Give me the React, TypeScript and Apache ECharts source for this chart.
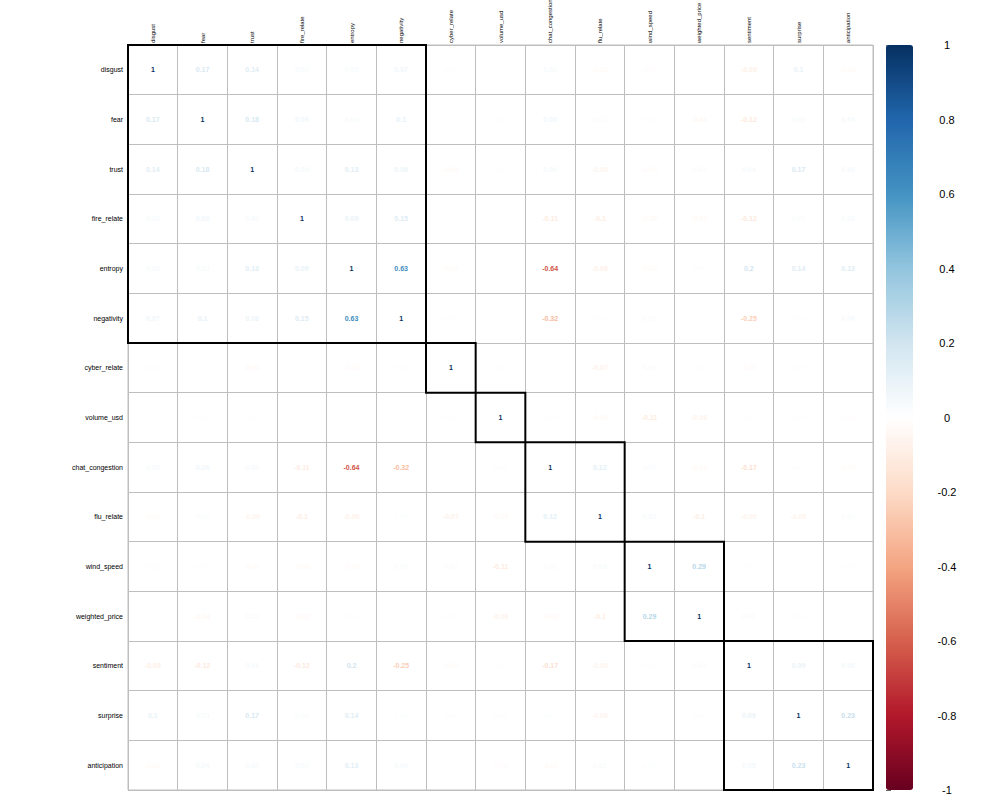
import React, { useEffect, useRef } from "react";
import * as echarts from "echarts";

const variables = [
  "disgust", "fear", "trust", "fire_relate", "entropy", "negativity", "cyber_relate",
  "volume_usd", "chat_congestion", "flu_relate", "wind_speed", "weighted_price",
  "sentiment", "surprise", "anticipation",
];

const rowDisgust = [1, 0.17, 0.14, 0.03, 0.03, 0.07, 0.01, 0, 0.03, -0.02, -0.01, 0, -0.09, 0.1, -0.02];
const rowFear = [0.17, 1, 0.18, 0.06, 0.03, 0.1, 0, 0.01, 0.06, 0.02, 0.01, -0.04, -0.12, 0.03, 0.04];
const rowTrust = [0.14, 0.18, 1, 0.04, 0.13, 0.08, -0.03, 0.01, 0.04, -0.06, -0.02, 0.02, 0.04, 0.17, 0.04];
const rowFire = [0.03, 0.06, 0.04, 1, 0.09, 0.15, 0, 0, -0.11, -0.1, -0.03, -0.03, -0.12, 0.02, 0.03];
const rowEntropy = [0.03, 0.03, 0.13, 0.09, 1, 0.63, -0.02, 0, -0.64, -0.08, -0.02, 0.01, 0.2, 0.14, 0.13];
const rowNegativity = [0.07, 0.1, 0.08, 0.15, 0.63, 1, 0.01, 0, -0.32, 0.01, 0.02, 0, -0.25, 0.01, 0.04];
const rowCyber = [0.01, 0, -0.03, 0, -0.02, 0.01, 1, 0.01, 0, -0.07, 0.02, 0.01, -0.02, 0.01, 0];
const rowVolume = [0, 0.01, 0.01, 0, 0, 0, 0.01, 1, 0.01, -0.03, -0.11, -0.06, 0.01, 0.01, -0.01];
const rowChat = [0.03, 0.06, 0.04, -0.11, -0.64, -0.32, 0, 0.01, 1, 0.12, 0.02, -0.03, -0.17, 0.01, -0.02];
const rowFlu = [-0.02, 0.02, -0.06, -0.1, -0.08, 0.01, -0.07, -0.03, 0.12, 1, 0.03, -0.1, -0.06, -0.06, 0.02];
const rowWind = [-0.01, 0.01, -0.02, -0.03, -0.02, 0.02, 0.02, -0.11, 0.02, 0.03, 1, 0.29, 0.01, 0, 0.01];
const rowPrice = [0, -0.04, 0.02, -0.03, 0.01, 0, 0.01, -0.06, -0.03, -0.1, 0.29, 1, 0.02, 0.01, 0];
const rowSentiment = [-0.09, -0.12, 0.04, -0.12, 0.2, -0.25, -0.02, 0.01, -0.17, -0.06, 0.01, 0.02, 1, 0.09, 0.05];
const rowSurprise = [0.1, 0.03, 0.17, 0.02, 0.14, 0.01, 0.01, 0.01, 0.01, -0.06, 0, 0.01, 0.09, 1, 0.23];
const rowAnticipation = [-0.02, 0.04, 0.04, 0.03, 0.13, 0.04, 0, -0.01, -0.02, 0.02, 0.01, 0, 0.05, 0.23, 1];

const matrix = [
  rowDisgust, rowFear, rowTrust, rowFire, rowEntropy, rowNegativity, rowCyber, rowVolume,
  rowChat, rowFlu, rowWind, rowPrice, rowSentiment, rowSurprise, rowAnticipation,
];

// cluster blocks [startIndex, endIndex]
const clusters = [[0, 5], [6, 6], [7, 7], [8, 9], [10, 11], [12, 14]];

const colorTicks = [-1, -0.8, -0.6, -0.4, -0.2, 0, 0.2, 0.4, 0.6, 0.8, 1];

const RdBu = [
  "#67001F", "#B2182B", "#D6604D", "#F4A582", "#FDDBC7", "#FFFFFF",
  "#D1E5F0", "#92C5DE", "#4393C3", "#2166AC", "#053061",
];

function fmt(v: number): string {
  const r = Math.round(v * 100) / 100;
  return String(r);
}

export default function App() {
  const ref = useRef<HTMLDivElement>(null);
  useEffect(() => {
    if (!ref.current) return;
    document.body.style.margin = "0";
    const chart = echarts.init(ref.current, undefined, { renderer: "svg" });
    const cellData: number[][] = [];
    matrix.forEach((row, r) => row.forEach((v, c) => cellData.push([c, r, v])));

    const font = "Liberation Sans, Arial, sans-serif";
    chart.setOption({
      animation: false,
      backgroundColor: "#ffffff",
      grid: [
        {
          left: 128, top: 45, width: 745, height: 745, show: true, borderColor: "#BEBEBE", borderWidth: 1,
          backgroundColor: "transparent", containLabel: false, outerBoundsMode: "none",
        },
        { left: 886, top: 45, width: 27, height: 745, show: false, containLabel: false, outerBoundsMode: "none" },
      ],
      xAxis: [
        {
          type: "category", gridIndex: 0, data: variables, position: "top",
          axisLine: { show: false }, axisTick: { show: false },
          splitLine: { show: true, lineStyle: { color: "#BEBEBE", width: 1 } },
          axisLabel: {
            rotate: -90, fontSize: 6, color: "#000", margin: 2, fontFamily: font, interval: 0,
            overflow: "none", width: 200, hideOverlap: false,
          },
        },
        { type: "value", gridIndex: 1, show: false, min: 0, max: 1 },
      ],
      yAxis: [
        {
          type: "category", gridIndex: 0, data: variables, inverse: true,
          axisLine: { show: false }, axisTick: { show: false },
          splitLine: { show: true, lineStyle: { color: "#BEBEBE", width: 1 } },
          axisLabel: { fontSize: 7, color: "#000", margin: 5, fontFamily: font, interval: 0 },
        },
        {
          type: "value", gridIndex: 1, position: "right", min: -1, max: 1, interval: 0.2,
          axisLine: { show: false },
          axisTick: { show: true, length: 5, lineStyle: { color: "#666" } },
          splitLine: { show: false },
          axisLabel: {
            fontSize: 11, color: "#000", margin: 34, align: "center", fontFamily: font,
            formatter: (v: number) => {
              const t = colorTicks.find((x) => Math.abs(x - v) < 1e-6);
              return t === undefined ? "" : String(t);
            },
          },
        },
      ],
      visualMap: {
        type: "continuous", min: -1, max: 1, dimension: 2, seriesIndex: 0,
        calculable: false, left: 886, top: 45, itemWidth: 27, itemHeight: 745,
        padding: 0, text: ["", ""], showLabel: false,
        inRange: { color: RdBu },
      },
      series: [
        {
          type: "custom", xAxisIndex: 0, yAxisIndex: 0, data: cellData,
          renderItem: (params: any, api: any) => {
            const p = api.coord([api.value(0), api.value(1)]);
            return {
              type: "text", x: p[0], y: p[1],
              style: {
                text: fmt(api.value(2)), fill: api.visual("color"),
                fontSize: 7, fontWeight: "bold", fontFamily: font,
                align: "center", verticalAlign: "middle",
              },
            };
          },
        },
        {
          type: "custom", xAxisIndex: 0, yAxisIndex: 0, data: clusters,
          renderItem: (params: any, api: any) => {
            const s = api.value(0), e = api.value(1);
            const a = api.coord([s, s]);
            const b = api.coord([e, e]);
            const sz = api.size([1, 1]);
            return {
              type: "rect",
              shape: { x: a[0] - sz[0] / 2, y: a[1] - sz[1] / 2, width: b[0] - a[0] + sz[0], height: b[1] - a[1] + sz[1] },
              style: { fill: "none", stroke: "#000", lineWidth: 2 },
              z2: 10,
            };
          },
        },
      ],
    });
    return () => chart.dispose();
  }, []);
  return <div ref={ref} style={{ width: 1000, height: 800 }} />;
}
